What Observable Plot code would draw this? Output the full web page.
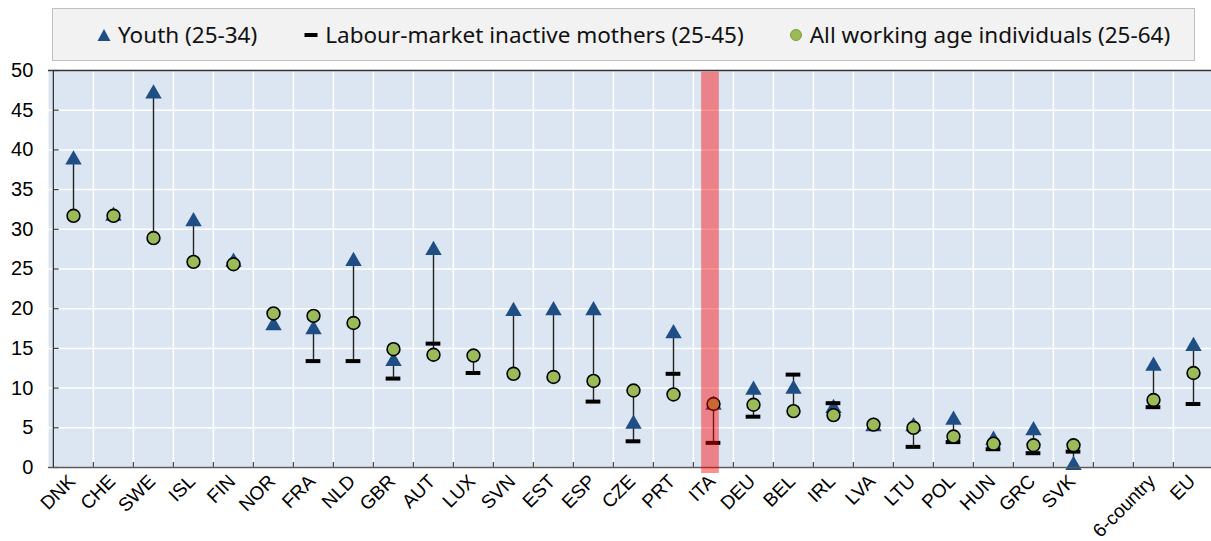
<!DOCTYPE html>
<html>
<head>
<meta charset="utf-8">
<script src="https://cdn.jsdelivr.net/npm/d3@7"></script>
<script src="https://cdn.jsdelivr.net/npm/@observablehq/plot@0.6"></script>
<style>
  html, body { margin: 0; padding: 0; background: #fff; }
  #wrap { position: relative; width: 1211px; height: 541px; overflow: hidden; }
  #legend {
    position: absolute; left: 52px; top: 8px; width: 1143px; height: 53px;
    background: #f2f2f2; border: 1px solid #c0c0c0;
    display: flex; align-items: center; padding-left: 44px; box-sizing: border-box;
    font-family: "Noto Sans", "Open Sans", sans-serif; font-size: 22.5px; color: #111;
    white-space: nowrap; z-index: 2;
  }
  .item { display: flex; align-items: center; flex-shrink: 0; }
  .item svg { margin-right: 7px; flex-shrink: 0; }
  .item.i0 { margin-right: 47px; }
  .item.i1 { margin-right: 45px; }
</style>
</head>
<body>
<div id="wrap">
  <div id="legend"></div>
  <div id="chart"></div>
</div>
<script>
// ---- data ----
const categories = ["DNK","CHE","SWE","ISL","FIN","NOR","FRA","NLD","GBR","AUT","LUX","SVN","EST","ESP","CZE","PRT","ITA","DEU","BEL","IRL","LVA","LTU","POL","HUN","GRC","SVK"," ","6-country","EU"];
const youth   = [39.1, 32.0, 47.4, 31.3, 26.2, 18.2, 17.7, 26.3, 13.7, 27.7, null, 20.0, 20.1, 20.1, 5.8, 17.2, 8.2, 10.1, 10.2, 7.8, 5.5, 5.5, 6.3, 3.8, 5.0, 0.6, null, 13.1, 15.6];
const mothers = [null, null, null, null, null, null, 13.4, 13.4, 11.2, 15.6, 11.9, null, null, 8.3, 3.3, 11.8, 3.1, 6.4, 11.7, 8.1, null, 2.6, 3.2, 2.3, 1.8, 2.0, null, 7.6, 8.0];
const allAge  = [31.7, 31.7, 28.9, 25.9, 25.6, 19.4, 19.1, 18.2, 14.9, 14.2, 14.1, 11.8, 11.4, 10.9, 9.7, 9.2, 8.0, 7.9, 7.1, 6.6, 5.4, 5.0, 3.9, 3.0, 2.8, 2.8, null, 8.5, 11.9];
const yTicks = [0, 5, 10, 15, 20, 25, 30, 35, 40, 45, 50];
const highlight = ["ITA"];
const seriesNames = ["Youth (25-34)", "Labour-market inactive mothers (25-45)", "All working age individuals (25-64)"];

// ---- table ----
const rows = categories.map((c, i) => ({cat: c, youth: youth[i], mothers: mothers[i], all: allAge[i]}));
const spans = rows.map(r => {
  const v = [r.youth, r.mothers, r.all].filter(x => x != null);
  return {cat: r.cat, lo: v.length ? d3.min(v) : null, hi: v.length ? d3.max(v) : null};
}).filter(s => s.lo != null && s.hi > s.lo);

// ---- layout ----
const W = 1211, H = 541, mL = 48, mT = 70, mB = 74, xEnd = 1217;
const bw = (xEnd - mL) / categories.length;
const pxPerUnit = (H - mT - mB) / (d3.max(yTicks) - d3.min(yTicks));
const tickLen = 5 / pxPerUnit;
const firstCat = () => categories[0];

const BLUE = "#1f4e84", GREEN = "#9bbb59", BG = "#dce6f2";
const font = "'Liberation Sans', Arial, sans-serif";

const chart = Plot.plot({
  width: W, height: H,
  marginLeft: mL, marginRight: 0, marginTop: mT, marginBottom: mB,
  style: {fontFamily: font, background: "transparent", overflow: "visible"},
  x: {type: "band", domain: categories, range: [mL, xEnd], padding: 0, axis: null},
  y: {domain: [d3.min(yTicks), d3.max(yTicks)], axis: null},
  marks: [
    Plot.frame({fill: BG, stroke: null}),
    Plot.ruleY(yTicks, {stroke: "white", strokeWidth: 1.5}),
    Plot.ruleX(categories, {x: d => d, dx: -bw / 2, stroke: "white", strokeWidth: 1.5}),
    Plot.ruleX(categories.slice(1), {x: d => d, dx: -bw / 2, y1: d3.min(yTicks), y2: d3.min(yTicks) + tickLen, stroke: "#444", strokeWidth: 1.2}),
    Plot.tickY(yTicks, {y: d => d, x: firstCat, insetRight: bw - 6, stroke: "#444", strokeWidth: 1.2}),
    Plot.ruleX(spans, {x: "cat", y1: "lo", y2: "hi", stroke: "#222", strokeWidth: 1.4}),
    Plot.dot(rows, {x: "cat", y: "youth", symbol: "triangle", r: 6.1, fill: BLUE, stroke: null, dy: 2.6}),
    Plot.tickY(rows, {x: "cat", y: "mothers", stroke: "#000", strokeWidth: 4, insetLeft: (bw - 15) / 2, insetRight: (bw - 15) / 2}),
    Plot.dot(rows, {x: "cat", y: "all", r: 6.4, fill: GREEN, stroke: "#000", strokeWidth: 1.6}),
    Plot.ruleY([d3.min(yTicks)], {stroke: "#5a5a5a", strokeWidth: 1.3}),
    Plot.ruleY([d3.max(yTicks)], {stroke: "#333", strokeWidth: 1.3}),
    Plot.ruleX([categories[0]], {x: d => d, dx: -bw / 2, stroke: "#333", strokeWidth: 1.3}),
    Plot.barY(highlight, {x: d => d, y1: d3.min(yTicks), y2: d3.max(yTicks), fill: "#ff0000", fillOpacity: 0.435,
      insetLeft: (bw - 18) / 2, insetRight: (bw - 18) / 2, dx: -3, insetBottom: -6, insetTop: 1.5}),
    Plot.text(yTicks, {x: firstCat, y: d => d, text: d => String(d), dx: -bw / 2 - 20, textAnchor: "end", fontSize: 20, fill: "#000"}),
    Plot.text(categories, {x: d => d, frameAnchor: "bottom", text: d => d.trim(), rotate: -45, textAnchor: "end", dx: 3, dy: 15, fontSize: 19, fill: "#000"})
  ]
});
document.getElementById("chart").appendChild(chart);

// ---- legend ----
const legend = document.getElementById("legend");
const symbols = [
  `<svg width="14" height="14"><path d="M7,1 L13.5,13 L0.5,13 Z" fill="${BLUE}"/></svg>`,
  `<svg width="14" height="14"><rect x="0.5" y="5" width="13" height="4" fill="#000"/></svg>`,
  `<svg width="14" height="14"><circle cx="7" cy="7" r="5.5" fill="${GREEN}" stroke="#7a9a3a" stroke-width="1"/></svg>`
];
seriesNames.forEach((name, i) => {
  const el = document.createElement("div");
  el.className = "item i" + i;
  el.innerHTML = symbols[i] + `<span>${name}</span>`;
  legend.appendChild(el);
});
</script>
</body>
</html>
